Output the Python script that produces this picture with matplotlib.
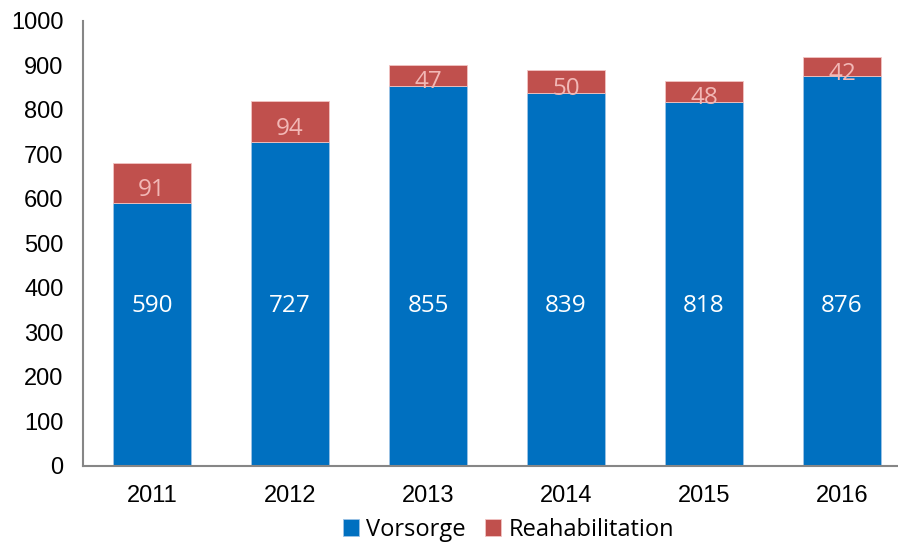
import matplotlib.pyplot as plt
import numpy as np

years = ['2011', '2012', '2013', '2014', '2015', '2016']
vorsorge = [590, 727, 855, 839, 818, 876]
reha = [91, 94, 47, 50, 48, 42]

BLUE = '#0070C0'
RED = '#C0504D'


def main():
    fig = plt.figure(figsize=(8.98, 5.44), dpi=100)
    ax = fig.add_axes([0.0924, 0.1434, 0.9076, 0.818])

    x = np.arange(len(years))
    w = 0.565
    ax.bar(x, vorsorge, w, color=BLUE, edgecolor='#9DC3E6', linewidth=0.6, label='Vorsorge')
    ax.bar(x, reha, w, bottom=vorsorge, color=RED, edgecolor='#F2C4C3', linewidth=0.6,
           label='Reahabilitation')

    label_font = dict(family=['Open Sans', 'DejaVu Sans'], fontsize=17.5)
    for xi, v, r in zip(x, vorsorge, reha):
        ax.text(xi, 360, str(v), ha='center', va='center', color='white', **label_font)
        ax.annotate(str(r), (xi, v + r / 2), xytext=(0, -7), textcoords='offset pixels',
                    ha='center', va='center', color='#F2B8B6', **label_font)

    ax.set_xlim(-0.5, 5.5 - 13 / 138)
    ax.set_ylim(0, 1000)
    ax.set_yticks(np.arange(0, 1001, 100))
    ax.set_xticks(x)
    ax.set_xticklabels(years)
    for lbl in ax.get_xticklabels() + ax.get_yticklabels():
        lbl.set_family('Liberation Sans')
        lbl.set_fontsize(17)
    ax.tick_params(length=0)
    ax.tick_params(axis='y', pad=14)
    ax.tick_params(axis='x', pad=14)

    for s in ['top', 'right']:
        ax.spines[s].set_visible(False)
    for s in ['left', 'bottom']:
        ax.spines[s].set_color('#868686')
        ax.spines[s].set_linewidth(1.5)

    ax.legend(loc='upper center', bbox_to_anchor=(0.522, -0.095), ncol=2, frameon=False,
              prop={'family': 'Open Sans', 'size': 17}, handlelength=0.7, handleheight=0.7,
              handletextpad=0.3, columnspacing=0.8, borderaxespad=0)

    fig.savefig('out.png', dpi=100)


if __name__ == '__main__':
    main()
